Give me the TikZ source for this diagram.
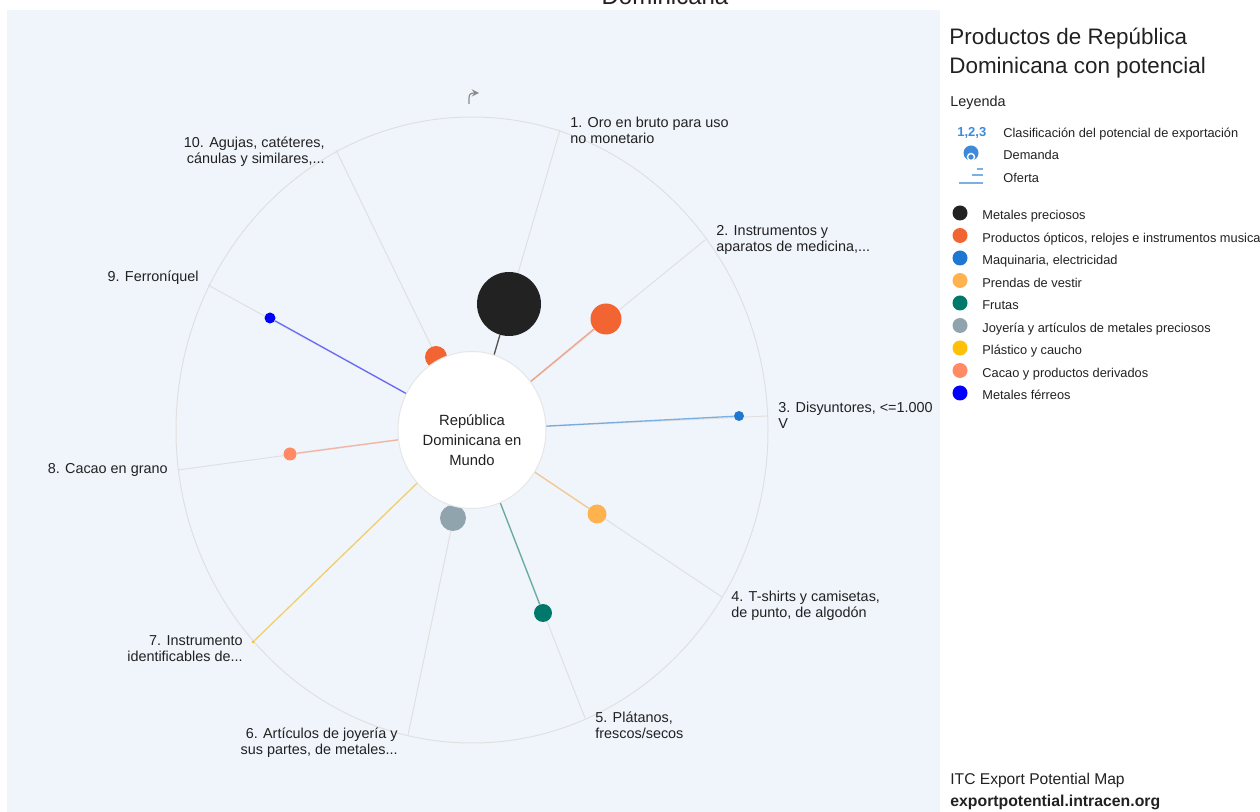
\documentclass[tikz,border=0pt]{standalone}
\usepackage{fontspec}
\setmainfont{Liberation Sans}
\usetikzlibrary{shapes.geometric,backgrounds}

\definecolor{panel}{HTML}{F0F5FC}
\definecolor{ink}{HTML}{212121}
\definecolor{ringgrey}{HTML}{E0E0E0}
\definecolor{hubline}{HTML}{E6E6E6}
\definecolor{icongrey}{HTML}{8A8A8A}
\definecolor{keyblue}{HTML}{3D8BD8}
\definecolor{supply}{HTML}{7DAFE0}
\definecolor{cPrecious}{HTML}{222222}
\definecolor{cOptical}{HTML}{F26532}
\definecolor{cMachine}{HTML}{1E78D2}
\definecolor{cClothes}{HTML}{FFB24D}
\definecolor{cFruit}{HTML}{00796B}
\definecolor{cJewel}{HTML}{90A4AE}
\definecolor{cPlastic}{HTML}{FFC107}
\definecolor{cCocoa}{HTML}{FF8A65}
\definecolor{cIron}{HTML}{0000FF}

\begin{document}
\begin{tikzpicture}[
		x=0.5pt, y=-0.5pt,
		>=stealth,
		every node/.style={text=ink},
		spoke/.style={draw=ringgrey, line width=0.5pt},
		link/.style={line width=0.65pt, draw opacity=0.55},
		dot/.style={circle, inner sep=0pt},
		hub/.style={ellipse, fill=white, draw=hubline, line width=0.5pt, minimum width=74pt, minimum height=78.5pt, inner sep=0pt},
		prodtext/.style={inner sep=0pt, font=\fontsize{7.2}{8}\selectfont, execute at begin node=\rule{0pt}{7pt}},
		keydot/.style={circle, inner sep=0pt, minimum size=7.5pt},
		keytext/.style={anchor=base west, inner sep=0pt, font=\fontsize{6.4}{7.5}\selectfont}
	]
		\useasboundingbox (0,0) rectangle (1260,812);
		\clip (0,0) rectangle (1260,812);

		% Title (cut off at the top)
		\node[anchor=base, inner sep=0pt, font=\fontsize{12}{14}\selectfont] (heading) at (665,5) {Dominicana};

		% Rim points
		\coordinate (r1) at (560,130);
		\coordinate (r2) at (705,240);
		\coordinate (r3) at (767,416);
		\coordinate (r4) at (722,597);
		\coordinate (r5) at (585,718);
		\coordinate (r6) at (408,735);
		\coordinate (r7) at (253,642);
		\coordinate (r8) at (178,470);
		\coordinate (r9) at (208,285);
		\coordinate (r10) at (336,150);

		% Products
		\node[dot, fill=cPrecious, minimum size=32pt] (d1) at (509,304) {};
		\node[dot, fill=cOptical, minimum size=15.5pt] (d2) at (606,319) {};
		\node[dot, fill=cMachine, minimum size=5pt] (d3) at (739,416) {};
		\node[dot, fill=cClothes, minimum size=9.5pt] (d4) at (597,514) {};
		\node[dot, fill=cFruit, minimum size=9pt] (d5) at (543,613) {};
		\node[dot, fill=cJewel, minimum size=13pt] (d6) at (453,518) {};
		\node[dot, fill=cPlastic, minimum size=1.5pt] (d7) at (253,642) {};
		\node[dot, fill=cCocoa, minimum size=6.5pt] (d8) at (290,454) {};
		\node[dot, fill=cIron, minimum size=5.5pt] (d9) at (270,318) {};
		\node[dot, fill=cOptical, minimum size=11pt] (d10) at (436,357) {};

		% Hub
		\node[hub] (hub) at (472,430) {};
		\node[align=center, inner sep=0pt, font=\fontsize{7.4}{10}\selectfont] (hubtext) at (472,440) {República\\Dominicana en\\Mundo};

		\begin{scope}[on background layer]
			\fill[panel] (7,10) rectangle (940,812);
			\draw[spoke] (472,430) ellipse [x radius=296, y radius=313];
			\draw[spoke] (hub.center) -- (r1);
			\draw[spoke] (hub.center) -- (r2);
			\draw[spoke] (hub.center) -- (r3);
			\draw[spoke] (hub.center) -- (r4);
			\draw[spoke] (hub.center) -- (r5);
			\draw[spoke] (hub.center) -- (r6);
			\draw[spoke] (hub.center) -- (r7);
			\draw[spoke] (hub.center) -- (r8);
			\draw[spoke] (hub.center) -- (r9);
			\draw[spoke] (hub.center) -- (r10);
			\draw[link, cPrecious, draw opacity=0.75] (hub.center) -- (d1);
			\draw[link, cOptical] (hub.center) -- (d2);
			\draw[link, cMachine] (hub.center) -- (d3);
			\draw[link, cClothes] (hub.center) -- (d4);
			\draw[link, cFruit] (hub.center) -- (d5);
			\draw[link, cJewel] (hub.center) -- (d6);
			\draw[link, cPlastic] (hub.center) -- (d7);
			\draw[link, cCocoa] (hub.center) -- (d8);
			\draw[link, cIron] (hub.center) -- (d9);
			\draw[link, cOptical] (hub.center) -- (d10);
		\end{scope}

		% Product labels
		\node[prodtext, align=left, anchor=north west] (l1) at (570,117) {1. Oro en bruto para uso\\no monetario};
		\node[prodtext, align=left, anchor=north west] (l2) at (716,225) {2. Instrumentos y\\aparatos de medicina,...};
		\node[prodtext, align=left, anchor=north west] (l3) at (778,402) {3. Disyuntores, <=1.000\\V};
		\node[prodtext, align=left, anchor=north west] (l4) at (731,591) {4. T-shirts y camisetas,\\de punto, de algodón};
		\node[prodtext, align=left, anchor=north west] (l5) at (595,711) {5. Plátanos,\\frescos/secos};
		\node[prodtext, align=right, anchor=north east] (l6) at (398,727) {6. Artículos de joyería y\\sus partes, de metales...};
		\node[prodtext, align=right, anchor=north east] (l7) at (243,635) {7. Instrumento\\identificables de...};
		\node[prodtext, align=right, anchor=north east] (l8) at (168,459) {8. Cacao en grano};
		\node[prodtext, align=right, anchor=north east] (l9) at (199,267) {9. Ferroníquel};
		\node[prodtext, align=right, anchor=north east] (l10) at (325,137) {10. Agujas, catéteres,\\cánulas y similares,...};

		% Rotate icon
		\draw[icongrey, line width=0.6pt, ->] (469,104) -- (469,98) .. controls (469,94) and (471,93) .. (479,93);

		% Legend
		\node[anchor=north west, align=left, inner sep=0pt, font=\fontsize{11.2}{14.5}\selectfont, execute at begin node=\rule{0pt}{11pt}] (title) at (949,28) {Productos de República\\Dominicana con potencial};
		\node[anchor=base west, inner sep=0pt, font=\fontsize{7.2}{8}\selectfont] (leyenda) at (950,107) {Leyenda};
		\node[anchor=base west, inner sep=0pt, font=\fontsize{6.5}{8}\selectfont\bfseries, text=keyblue] (rank) at (957,137) {1,2,3};
		\node[keytext] (rankt) at (1003,138) {Clasificación del potencial de exportación};
		\node[dot, fill=keyblue, minimum size=7.5pt] (demand) at (971,153) {};
		\node[dot, fill=keyblue, draw=white, line width=0.7pt, minimum size=3.5pt] (demandin) at (971,157) {};
		\node[keytext] (demandt) at (1003,160) {Demanda};
		\draw[supply, line width=1.4pt] (977,169) -- (983,169);
		\draw[supply, line width=1.4pt] (972,175) -- (983,175);
		\draw[supply, line width=1.4pt] (959,183) -- (983,183);
		\node[keytext] (supplyt) at (1003,183) {Oferta};

		\node[keydot, fill=cPrecious] (k1) at (960,213) {};
		\node[keydot, fill=cOptical] (k2) at (960,235.5) {};
		\node[keydot, fill=cMachine] (k3) at (960,258) {};
		\node[keydot, fill=cClothes] (k4) at (960,280.5) {};
		\node[keydot, fill=cFruit] (k5) at (960,303) {};
		\node[keydot, fill=cJewel] (k6) at (960,325.5) {};
		\node[keydot, fill=cPlastic] (k7) at (960,348) {};
		\node[keydot, fill=cCocoa] (k8) at (960,370.5) {};
		\node[keydot, fill=cIron] (k9) at (960,393) {};
		\node[keytext] (t1) at (982,220) {Metales preciosos};
		\node[keytext] (t2) at (982,242.5) {Productos ópticos, relojes e instrumentos musicales};
		\node[keytext] (t3) at (982,265) {Maquinaria, electricidad};
		\node[keytext] (t4) at (982,287.5) {Prendas de vestir};
		\node[keytext] (t5) at (982,310) {Frutas};
		\node[keytext] (t6) at (982,332.5) {Joyería y artículos de metales preciosos};
		\node[keytext] (t7) at (982,355) {Plástico y caucho};
		\node[keytext] (t8) at (982,377.5) {Cacao y productos derivados};
		\node[keytext] (t9) at (982,400) {Metales férreos};

		% Footer
		\node[anchor=base west, inner sep=0pt, font=\fontsize{7.8}{9}\selectfont] (itc) at (950,784) {ITC Export Potential Map};
		\node[anchor=base west, inner sep=0pt, font=\fontsize{7.9}{9}\selectfont\bfseries] (site) at (950,806) {exportpotential.intracen.org};
	\end{tikzpicture}
\end{document}
